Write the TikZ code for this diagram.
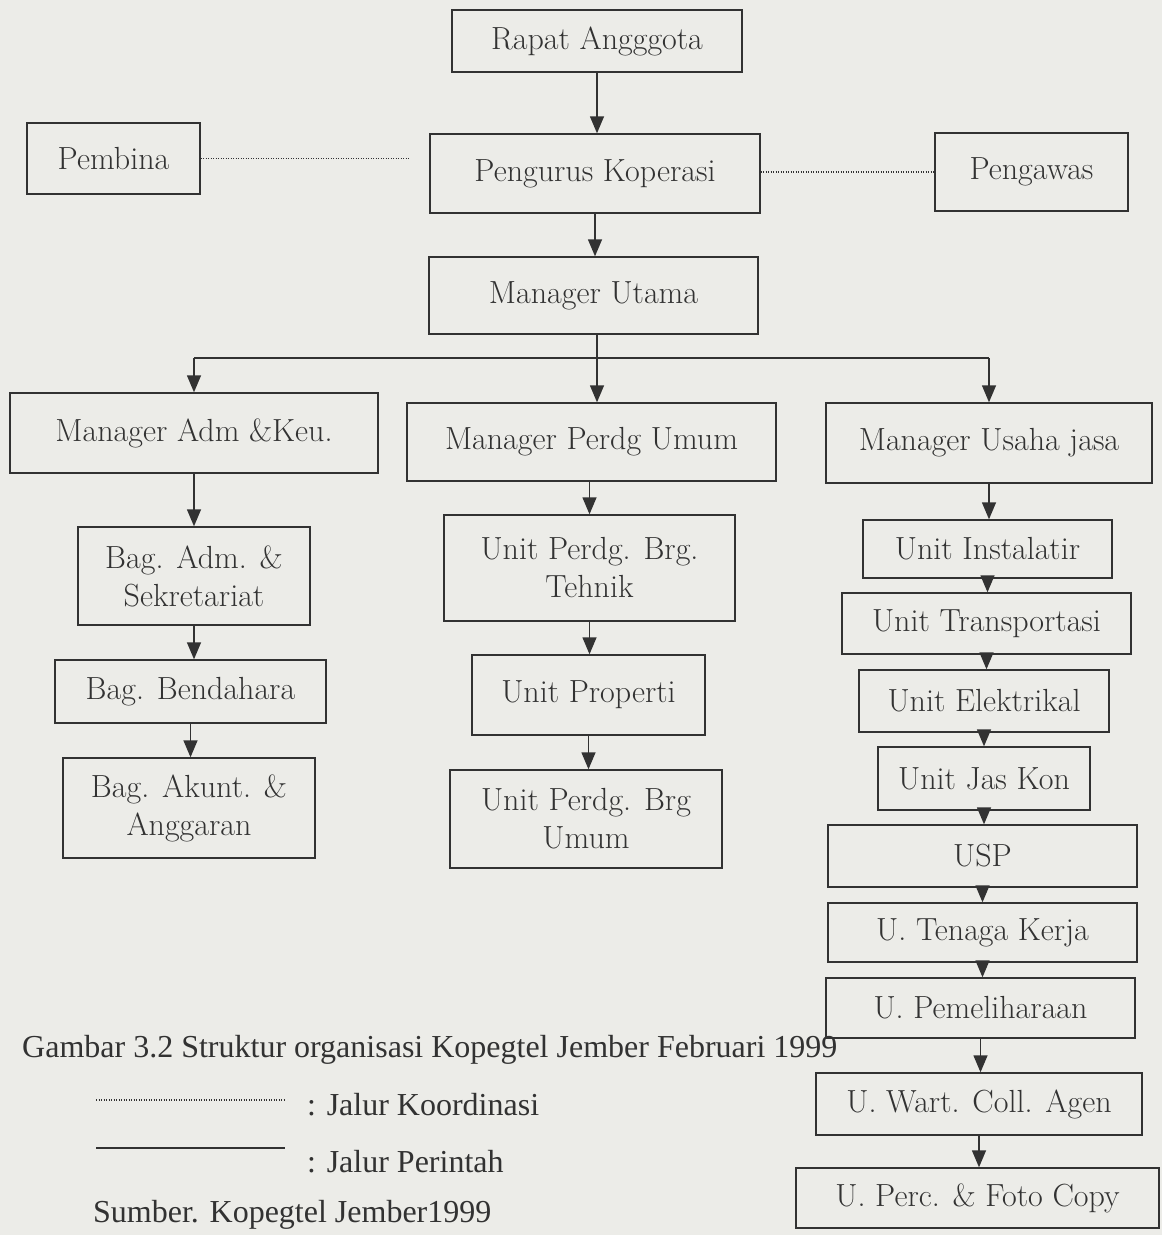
\documentclass[tikz,border=0pt]{standalone}
\usepackage{fontspec}
\newfontfamily\capfont{Liberation Serif}
\usetikzlibrary{arrows.meta}
\definecolor{paper}{RGB}{236,236,232}
\definecolor{ink}{RGB}{50,50,50}
\begin{document}
\begin{tikzpicture}[x=1pt,y=-1pt,
  box/.style={draw=ink, line width=1.4pt, text=ink, font=\fontsize{32}{38}\selectfont, align=center, inner sep=0pt},
  cmd/.style={draw=ink, line width=1.4pt, -{Triangle[length=17pt,width=14pt]}},
  plain/.style={draw=ink, line width=1.4pt},
  koord/.style={draw=ink, line width=1.2pt, dash pattern=on 1pt off 1.5pt},
  captext/.style={text=ink, font=\capfont\fontsize{32}{38}\selectfont, inner sep=0pt, anchor=base west}]
\fill[paper] (0,0) rectangle (1162,1235);
\useasboundingbox (0,0) rectangle (1162,1235);

% top
\node[box, minimum width=290pt, minimum height=62pt] (ra) at (597,41) {Rapat Angggota};
\node[box, minimum width=173pt, minimum height=71pt] (pb) at (113.5,158.5) {Pembina};
\node[box, minimum width=330pt, minimum height=79pt] (pk) at (595,173.5) {Pengurus Koperasi};
\node[box, minimum width=193pt, minimum height=78pt] (pw) at (1031.5,172) {Pengawas};
\node[box, minimum width=329pt, minimum height=77pt] (mu) at (593.5,295.5) {Manager Utama};

% managers
\node[box, minimum width=368pt, minimum height=80pt] (ma) at (194,433) {Manager Adm \&Keu.};
\node[box, minimum width=369pt, minimum height=78pt] (mp) at (591.5,442) {Manager Perdg Umum};
\node[box, minimum width=326pt, minimum height=80pt] (mj) at (989,443) {Manager Usaha jasa};

% left column
\node[box, minimum width=232pt, minimum height=98pt] (b1) at (194,576) {Bag. Adm. \&\\Sekretariat};
\node[box, minimum width=271pt, minimum height=63pt] (b2) at (190.5,691.5) {Bag. Bendahara};
\node[box, minimum width=252pt, minimum height=100pt] (b3) at (189,808) {Bag. Akunt. \&\\Anggaran};

% middle column
\node[box, minimum width=291pt, minimum height=106pt] (u1) at (589.5,568) {Unit Perdg. Brg.\\Tehnik};
\node[box, minimum width=233pt, minimum height=80pt] (u2) at (588.5,695) {Unit Properti};
\node[box, minimum width=272pt, minimum height=98pt] (u3) at (586,819) {Unit Perdg. Brg\\Umum};

% right column
\node[box, minimum width=249pt, minimum height=58pt] (r1) at (987.5,549) {Unit Instalatir};
\node[box, minimum width=289pt, minimum height=61pt] (r2) at (986.5,623.5) {Unit Transportasi};
\node[box, minimum width=250pt, minimum height=62pt] (r3) at (984,701) {Unit Elektrikal};
\node[box, minimum width=212pt, minimum height=63pt] (r4) at (984,778.5) {Unit Jas Kon};
\node[box, minimum width=309pt, minimum height=62pt] (r5) at (982.5,856) {USP};
\node[box, minimum width=309pt, minimum height=59pt] (r6) at (982.5,932.5) {U. Tenaga Kerja};
\node[box, minimum width=309pt, minimum height=60pt] (r7) at (980.5,1008) {U. Pemeliharaan};
\node[box, minimum width=326pt, minimum height=62pt] (r8) at (979,1104) {U. Wart. Coll. Agen};
\node[box, minimum width=363pt, minimum height=60pt] (r9) at (977.5,1198) {U. Perc. \& Foto Copy};

% command lines
\draw[cmd] (ra.south) -- (ra.south |- pk.north);
\draw[cmd] (pk.south) -- (pk.south |- mu.north);
\coordinate (br) at (597,358);
\draw[plain] (mu.south -| br) -- (br);
\draw[plain] (ma.north |- br) -- (mj.north |- br);
\draw[cmd] (ma.north |- br) -- (ma.north);
\draw[cmd] (br) -- (br |- mp.north);
\draw[cmd] (mj.north |- br) -- (mj.north);

\draw[cmd] (ma.south) -- (ma.south |- b1.north);
\draw[cmd] (b1.south) -- (b1.south |- b2.north);
\draw[cmd] (b2.south) -- (b2.south |- b3.north);

\draw[cmd] (mp.south -| u1.north) -- (u1.north);
\draw[cmd] (u1.south) -- (u1.south |- u2.north);
\draw[cmd] (u2.south) -- (u2.south |- u3.north);

\draw[cmd] (mj.south) -- (mj.south |- r1.north);
\draw[cmd] (r1.south) -- (r1.south |- r2.north);
\draw[cmd] (r2.south) -- (r2.south |- r3.north);
\draw[cmd] (r3.south) -- (r3.south |- r4.north);
\draw[cmd] (r4.south) -- (r4.south |- r5.north);
\draw[cmd] (r5.south) -- (r5.south |- r6.north);
\draw[cmd] (r6.south) -- (r6.south |- r7.north);
\draw[cmd] (r7.south) -- (r7.south |- r8.north);
\draw[cmd] (r8.south) -- (r8.south |- r9.north);

% coordination lines
\draw[koord, shorten >=20pt] (pb.east) -- (pb.east -| pk.west);
\draw[koord] (pk.east |- pw.west) -- (pw.west);

% caption and legend
\node[captext] (cap) at (22,1057) {Gambar 3.2 Struktur organisasi Kopegtel Jember Februari 1999};
\coordinate (lk1) at (96,1100);
\coordinate (lk2) at (285,1100);
\coordinate (lp1) at (96,1148);
\coordinate (lp2) at (285,1148);
\draw[koord] (lk1) -- (lk2);
\draw[plain] (lp1) -- (lp2);
\node[captext] (jk) at (307,1115) {: Jalur Koordinasi};
\node[captext] (jp) at (307,1172) {: Jalur Perintah};
\node[captext] (src) at (93,1222) {Sumber. Kopegtel Jember1999};
\end{tikzpicture}
\end{document}
